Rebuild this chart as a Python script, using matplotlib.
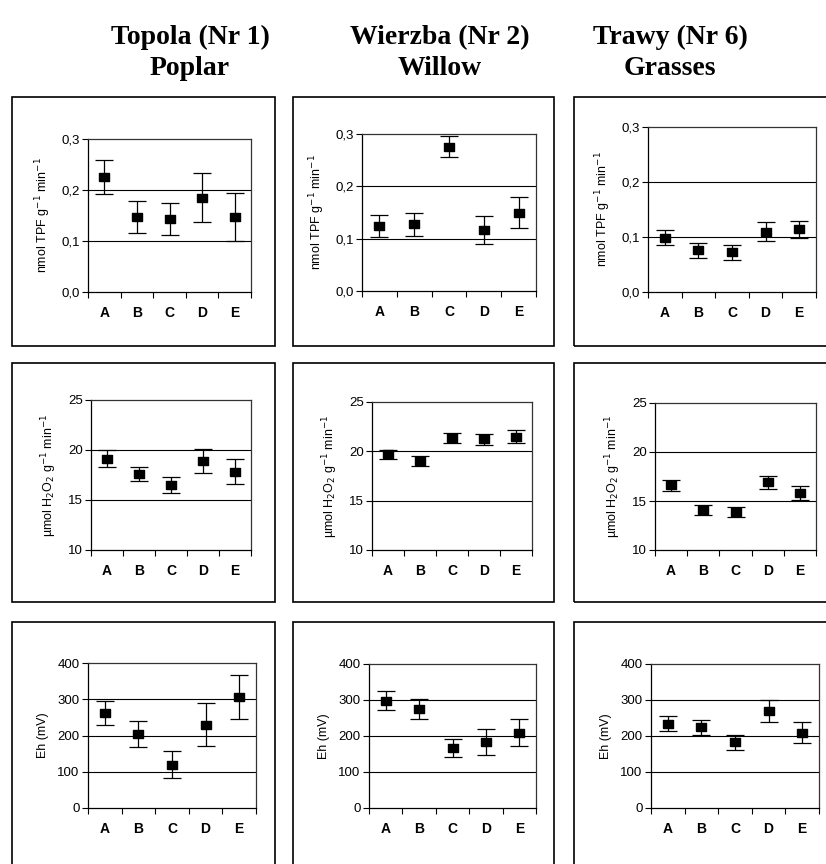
import numpy as np
import matplotlib
matplotlib.use('Agg')
import matplotlib.pyplot as plt
from matplotlib.patches import Rectangle
from matplotlib.ticker import FuncFormatter

# sample sites
cats = ['A', 'B', 'C', 'D', 'E']

# dehydrogenase activity (nmol TPF g-1 min-1): mean and error
dh_poplar = [0.226, 0.147, 0.143, 0.185, 0.147]
dh_poplar_err = [0.033, 0.032, 0.032, 0.048, 0.047]
dh_willow = [0.125, 0.128, 0.276, 0.117, 0.150]
dh_willow_err = [0.021, 0.022, 0.020, 0.027, 0.029]
dh_grass = [0.099, 0.076, 0.072, 0.110, 0.114]
dh_grass_err = [0.014, 0.014, 0.014, 0.018, 0.016]

# catalase activity (umol H2O2 g-1 min-1)
cat_poplar = [19.15, 17.6, 16.5, 18.95, 17.85]
cat_poplar_err = [0.87, 0.73, 0.77, 1.2, 1.23]
cat_willow = [19.7, 19.05, 21.35, 21.2, 21.5]
cat_willow_err = [0.45, 0.5, 0.5, 0.6, 0.65]
cat_grass = [16.6, 14.05, 13.85, 16.9, 15.8]
cat_grass_err = [0.58, 0.5, 0.5, 0.65, 0.68]

# redox potential Eh (mV)
eh_poplar = [261, 203, 120, 230, 306]
eh_poplar_err = [33, 36, 37, 60, 60]
eh_willow = [298, 275, 167, 183, 209]
eh_willow_err = [26, 29, 26, 36, 37]
eh_grass = [234, 224, 183, 270, 209]
eh_grass_err = [21, 20, 21, 31, 29]

titles = ['Topola (Nr 1)\nPoplar', 'Wierzba (Nr 2)\nWillow', 'Trawy (Nr 6)\nGrasses']
title_x = [190, 440, 670]

W, H = 826, 864
fig = plt.figure(figsize=(W / 100, H / 100), dpi=100)

def fx(x):
    return x / W

def fy(y):
    return 1 - y / H

# outer frames around each panel (pixel boxes: left, top, right, bottom)
col_box = [(12, 275), (293, 554), (574, 840)]
row_box = [(97, 346), (363, 602), (622, 880)]
for (x0, x1) in col_box:
    for (y0, y1) in row_box:
        fig.patches.append(Rectangle((fx(x0), fy(y1)), fx(x1 - x0), (y1 - y0) / H,
                                     transform=fig.transFigure, fill=False,
                                     edgecolor='black', lw=1.2, zorder=0))

for t, x in zip(titles, title_x):
    fig.text(fx(x), fy(53), t, ha='center', va='center', family='Liberation Serif',
             fontweight='bold', fontsize=20, linespacing=1.3)

# axes placement in pixels: left, top, right, bottom
boxes = [
    [(88, 139, 251, 292), (362, 134, 536, 291), (648, 127, 816, 292)],
    [(91, 400, 251, 550), (372, 402, 532, 550), (655, 403, 816, 550)],
    [(88, 663, 256, 808), (369, 664, 536, 808), (651, 664, 819, 808)],
]

rows = [
    [(dh_poplar, dh_poplar_err), (dh_willow, dh_willow_err), (dh_grass, dh_grass_err)],
    [(cat_poplar, cat_poplar_err), (cat_willow, cat_willow_err), (cat_grass, cat_grass_err)],
    [(eh_poplar, eh_poplar_err), (eh_willow, eh_willow_err), (eh_grass, eh_grass_err)],
]
ylabels = [r'nmol TPF g$^{-1}$ min$^{-1}$',
           r'µmol H$_2$O$_2$ g$^{-1}$ min$^{-1}$',
           'Eh (mV)']
yticks = [[0.0, 0.1, 0.2, 0.3], [10, 15, 20, 25], [0, 100, 200, 300, 400]]
comma = FuncFormatter(lambda v, p: f'{v:.1f}'.replace('.', ','))
intfmt = FuncFormatter(lambda v, p: f'{v:.0f}')

# slightly flattened square marker
rect = [(-1.25, -1), (1.25, -1), (1.25, 1), (-1.25, 1), (-1.25, -1)]

x = np.arange(len(cats))
for r in range(3):
    for c in range(3):
        l, t, rr, b = boxes[r][c]
        ax = fig.add_axes([fx(l), fy(b), fx(rr - l), (b - t) / H])
        vals, errs = rows[r][c]
        ax.errorbar(x, vals, yerr=errs, fmt='none', ecolor='black',
                    elinewidth=0.9, capsize=6.5, capthick=0.9, zorder=3)
        ax.plot(x, vals, linestyle='none', marker=rect, ms=7, color='black', zorder=4)
        ticks = yticks[r]
        ax.set_ylim(ticks[0], ticks[-1])
        ax.set_yticks(ticks)
        ax.yaxis.set_major_formatter(comma if r == 0 else intfmt)
        for v in ticks[1:-1]:
            ax.axhline(v, color='black', lw=0.8, zorder=1)
        ax.set_xlim(-0.5, len(cats) - 0.5)
        ax.set_xticks(np.arange(len(cats) + 1) - 0.5)
        ax.set_xticklabels([])
        ax.set_xticks(x, minor=True)
        ax.set_xticklabels(cats, minor=True, fontweight='bold', fontsize=10,
                           family='Liberation Sans')
        ax.tick_params(axis='x', which='minor', length=0, pad=10)
        ax.tick_params(axis='x', which='major', direction='out', length=4, width=0.8)
        ax.tick_params(axis='y', direction='out', length=4, width=0.8, labelsize=9.5, pad=2)
        for lab in ax.get_yticklabels():
            lab.set_family('Liberation Sans')
        ax.set_ylabel(ylabels[r], fontsize=9, family='Liberation Sans', labelpad=6)
        ax.spines['left'].set_color('black')
        ax.spines['bottom'].set_color('black')
        ax.spines['top'].set_color('#333333')
        ax.spines['right'].set_color('#333333')
        for s in ax.spines.values():
            s.set_linewidth(0.9)

fig.savefig('out.png', dpi=100)
